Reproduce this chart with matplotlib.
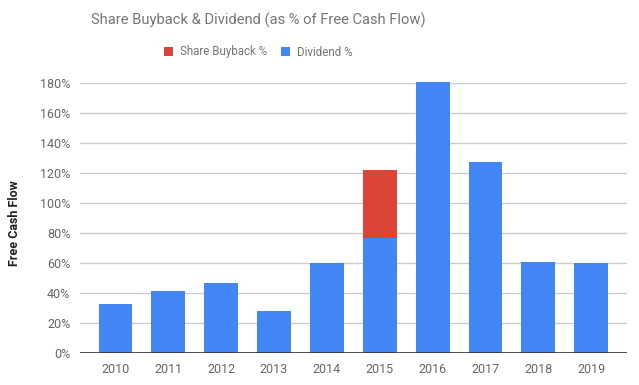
import numpy as np
import matplotlib.pyplot as plt

plt.rcParams['font.family'] = ['Roboto', 'DejaVu Sans']

# ---- data ----
years = ["2010", "2011", "2012", "2013", "2014", "2015", "2016", "2017", "2018", "2019"]
dividend_pct = [32.5, 41.3, 46.4, 28.0, 59.8, 76.4, 181.0, 127.6, 60.4, 59.8]
buyback_pct = [0.0, 0.0, 0.0, 0.3, 0.0, 45.6, 0.0, 0.0, 0.0, 0.0]
yticks = [0, 20, 40, 60, 80, 100, 120, 140, 160, 180]

BLUE = "#4285F4"
RED = "#DB4437"
GREY = "#757575"

fig = plt.figure(figsize=(6.39, 3.85), dpi=100)
ax = fig.add_axes([80 / 639, 1 - 353 / 385, (626.7 - 80) / 639, (353 - 83) / 385])

x = np.arange(len(years))
ax.bar(x, dividend_pct, width=0.64, color=BLUE, label="Dividend %", zorder=3, clip_on=False)
ax.bar(x, buyback_pct, width=0.64, bottom=dividend_pct, color=RED,
       label="Share Buyback %", zorder=3)

ax.set_xlim(-0.67, len(years) - 1 + 0.67)
ax.set_ylim(0, 180)
ax.set_yticks(yticks)
ax.set_yticklabels([f"{v}%" for v in yticks])
ax.set_xticks(x)
ax.set_xticklabels(years)

ax.grid(axis="y", color="#cccccc", linewidth=1, zorder=0)
ax.axhline(0, color="#333333", linewidth=1.2, zorder=4)
for s in ax.spines.values():
    s.set_visible(False)
ax.tick_params(axis="both", length=0, colors="#666666", labelsize=9)
ax.tick_params(axis="y", pad=7)
ax.tick_params(axis="x", pad=7)

fig.text(15 / 639, 1 - 223 / 385, "Free Cash Flow", rotation=90, ha="center", va="center",
         fontsize=9, fontweight="bold", color="#222222")

fig.text(258 / 639, 1 - 20 / 385, "Share Buyback & Dividend (as % of Free Cash Flow)",
         ha="center", va="center", fontsize=10.6, color=GREY)

handles, labels = ax.get_legend_handles_labels()
leg = fig.legend(handles[::-1], labels[::-1], loc="center", bbox_to_anchor=(258 / 639, 1 - 52 / 385),
                 ncol=2, frameon=False, fontsize=8.3, handlelength=0.8, handleheight=0.8,
                 columnspacing=1.2, handletextpad=0.6)
for t in leg.get_texts():
    t.set_color(GREY)

fig.savefig("out.png", dpi=100)
